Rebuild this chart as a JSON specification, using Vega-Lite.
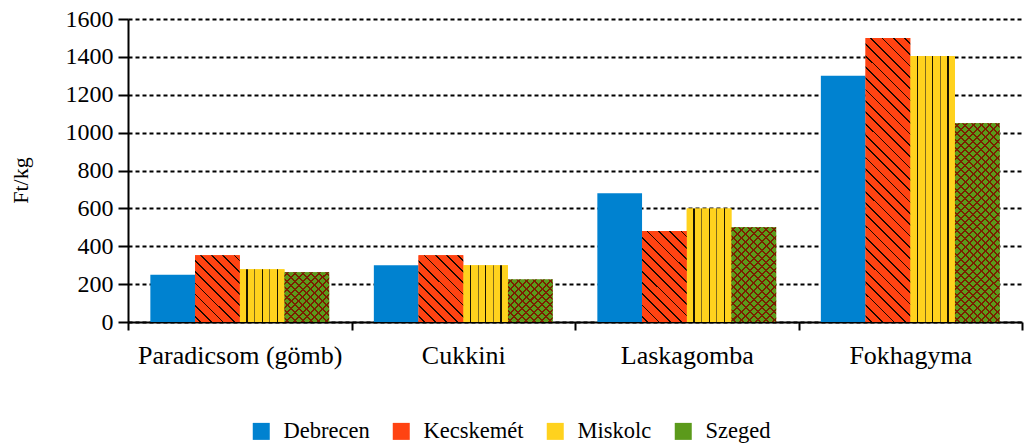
{
  "$schema": "https://vega.github.io/schema/vega-lite/v6.json",
  "width": 894,
  "height": 303,
  "autosize": "none",
  "padding": {"left": 128, "top": 19, "right": 2, "bottom": 122},
  "background": "white",
  "config": {"view": {"stroke": null}, "font": "Liberation Serif", "axis": {"labelFont": "Liberation Serif", "titleFont": "Liberation Serif"}, "legend": {"labelFont": "Liberation Serif"}},
  "data": {"values": [
    {"product": "Paradicsom (gömb)", "city": "Debrecen", "price": 250},
    {"product": "Paradicsom (gömb)", "city": "Kecskemét", "price": 353},
    {"product": "Paradicsom (gömb)", "city": "Miskolc", "price": 278},
    {"product": "Paradicsom (gömb)", "city": "Szeged", "price": 263},
    {"product": "Cukkini", "city": "Debrecen", "price": 300},
    {"product": "Cukkini", "city": "Kecskemét", "price": 353},
    {"product": "Cukkini", "city": "Miskolc", "price": 300},
    {"product": "Cukkini", "city": "Szeged", "price": 225},
    {"product": "Laskagomba", "city": "Debrecen", "price": 680},
    {"product": "Laskagomba", "city": "Kecskemét", "price": 480},
    {"product": "Laskagomba", "city": "Miskolc", "price": 600},
    {"product": "Laskagomba", "city": "Szeged", "price": 500},
    {"product": "Fokhagyma", "city": "Debrecen", "price": 1300},
    {"product": "Fokhagyma", "city": "Kecskemét", "price": 1500},
    {"product": "Fokhagyma", "city": "Miskolc", "price": 1405},
    {"product": "Fokhagyma", "city": "Szeged", "price": 1050}
  ]},
  "encoding": {
    "x": {
      "field": "product", "type": "nominal",
      "sort": ["Paradicsom (gömb)", "Cukkini", "Laskagomba", "Fokhagyma"],
      "scale": {"paddingInner": 0, "paddingOuter": 0},
      "axis": {"title": null, "labelAngle": 0, "tickBand": "extent", "tickSize": 8, "tickWidth": 2, "tickColor": "#000", "domainColor": "#000", "domainWidth": 2, "labelFont": "Liberation Serif", "labelFontSize": 26, "labelColor": "#000", "labelPadding": 12, "labelLimit": 0, "grid": false}
    },
    "xOffset": {"field": "city", "type": "nominal", "sort": ["Debrecen", "Kecskemét", "Miskolc", "Szeged"], "scale": {"paddingInner": 0, "paddingOuter": 0.5}},
    "y": {
      "field": "price", "type": "quantitative",
      "scale": {"domain": [0, 1600], "nice": false},
      "axis": {"title": "Ft/kg", "format": "d", "values": [0, 200, 400, 600, 800, 1000, 1200, 1400, 1600], "grid": true, "gridColor": "#000", "gridDash": [4, 3], "gridWidth": 2, "domainColor": "#000", "domainWidth": 2, "tickColor": "#000", "tickWidth": 2, "tickSize": 10, "labelFont": "Liberation Serif", "labelFontSize": 24, "labelColor": "#000", "labelPadding": 5, "titleFont": "Liberation Serif", "titleFontSize": 22, "titleFontWeight": "normal", "titleColor": "#000", "titlePadding": 33, "titleY": 161}
    }
  },
  "layer": [
    {
      "mark": {"type": "bar"},
      "encoding": {
        "color": {
          "field": "city", "type": "nominal",
          "sort": ["Debrecen", "Kecskemét", "Miskolc", "Szeged"],
          "scale": {"domain": ["Debrecen", "Kecskemét", "Miskolc", "Szeged"], "range": ["#0082D0", "#FF4312", "#FFD21E", "#5B9A1B"]},
          "legend": {"orient": "none", "legendX": 122, "legendY": 401, "direction": "horizontal", "title": null, "symbolType": "square", "symbolSize": 289, "symbolStrokeWidth": 0, "labelFont": "Liberation Serif", "labelFontSize": 22.5, "labelColor": "#000", "labelOffset": 11, "columnPadding": 20, "padding": 0}
        }
      }
    },
    {
      "transform": [{"filter": "datum.city === 'Miskolc'"}],
      "mark": {"type": "bar", "fill": {"gradient": "linear", "x1": 0, "y1": 0, "x2": 1, "y2": 0, "stops": [
        {"offset": 0, "color": "#FFD21E"},
        {"offset": 0.151, "color": "#FFD21E"}, {"offset": 0.151, "color": "#1A1400"}, {"offset": 0.175, "color": "#1A1400"}, {"offset": 0.175, "color": "#FFD21E"},
        {"offset": 0.321, "color": "#FFD21E"}, {"offset": 0.321, "color": "#806A1C"}, {"offset": 0.345, "color": "#806A1C"}, {"offset": 0.345, "color": "#FFD21E"},
        {"offset": 0.492, "color": "#FFD21E"}, {"offset": 0.492, "color": "#1A1400"}, {"offset": 0.516, "color": "#1A1400"}, {"offset": 0.516, "color": "#FFD21E"},
        {"offset": 0.662, "color": "#FFD21E"}, {"offset": 0.662, "color": "#806A1C"}, {"offset": 0.686, "color": "#806A1C"}, {"offset": 0.686, "color": "#FFD21E"},
        {"offset": 0.832, "color": "#FFD21E"}, {"offset": 0.832, "color": "#1A1400"}, {"offset": 0.856, "color": "#1A1400"}, {"offset": 0.856, "color": "#FFD21E"},
        {"offset": 1, "color": "#FFD21E"}
      ]}}
    },
    {
      "transform": [{"filter": "datum.city === 'Kecskemét' && (datum.product === 'Paradicsom (gömb)' || datum.product === 'Cukkini')"}],
      "mark": {"type": "bar", "fill": {"gradient": "linear", "x1": 0, "y1": 1, "x2": 0.7697, "y2": -0.1536, "stops": [
        {"offset": 0, "color": "#FF4312"},
        {"offset": 0.042, "color": "#FF4312"}, {"offset": 0.042, "color": "#1A0800"}, {"offset": 0.058, "color": "#1A0800"}, {"offset": 0.058, "color": "#FF4312"},
        {"offset": 0.142, "color": "#FF4312"}, {"offset": 0.142, "color": "#1A0800"}, {"offset": 0.158, "color": "#1A0800"}, {"offset": 0.158, "color": "#FF4312"},
        {"offset": 0.242, "color": "#FF4312"}, {"offset": 0.242, "color": "#1A0800"}, {"offset": 0.258, "color": "#1A0800"}, {"offset": 0.258, "color": "#FF4312"},
        {"offset": 0.342, "color": "#FF4312"}, {"offset": 0.342, "color": "#1A0800"}, {"offset": 0.358, "color": "#1A0800"}, {"offset": 0.358, "color": "#FF4312"},
        {"offset": 0.442, "color": "#FF4312"}, {"offset": 0.442, "color": "#1A0800"}, {"offset": 0.458, "color": "#1A0800"}, {"offset": 0.458, "color": "#FF4312"},
        {"offset": 0.542, "color": "#FF4312"}, {"offset": 0.542, "color": "#1A0800"}, {"offset": 0.558, "color": "#1A0800"}, {"offset": 0.558, "color": "#FF4312"},
        {"offset": 0.642, "color": "#FF4312"}, {"offset": 0.642, "color": "#1A0800"}, {"offset": 0.658, "color": "#1A0800"}, {"offset": 0.658, "color": "#FF4312"},
        {"offset": 0.742, "color": "#FF4312"}, {"offset": 0.742, "color": "#1A0800"}, {"offset": 0.758, "color": "#1A0800"}, {"offset": 0.758, "color": "#FF4312"},
        {"offset": 0.842, "color": "#FF4312"}, {"offset": 0.842, "color": "#1A0800"}, {"offset": 0.858, "color": "#1A0800"}, {"offset": 0.858, "color": "#FF4312"},
        {"offset": 0.942, "color": "#FF4312"}, {"offset": 0.942, "color": "#1A0800"}, {"offset": 0.958, "color": "#1A0800"}, {"offset": 0.958, "color": "#FF4312"},
        {"offset": 1, "color": "#FF4312"}
      ]}}
    },
    {
      "transform": [{"filter": "datum.city === 'Kecskemét' && datum.product === 'Laskagomba'"}],
      "mark": {"type": "bar", "fill": {"gradient": "linear", "x1": 0, "y1": 1, "x2": 0.5895, "y2": -0.2014, "stops": [
        {"offset": 0, "color": "#FF4312"},
        {"offset": 0.0351, "color": "#FF4312"}, {"offset": 0.0351, "color": "#1A0800"}, {"offset": 0.0483, "color": "#1A0800"}, {"offset": 0.0483, "color": "#FF4312"},
        {"offset": 0.1184, "color": "#FF4312"}, {"offset": 0.1184, "color": "#1A0800"}, {"offset": 0.1316, "color": "#1A0800"}, {"offset": 0.1316, "color": "#FF4312"},
        {"offset": 0.2017, "color": "#FF4312"}, {"offset": 0.2017, "color": "#1A0800"}, {"offset": 0.2149, "color": "#1A0800"}, {"offset": 0.2149, "color": "#FF4312"},
        {"offset": 0.2851, "color": "#FF4312"}, {"offset": 0.2851, "color": "#1A0800"}, {"offset": 0.2983, "color": "#1A0800"}, {"offset": 0.2983, "color": "#FF4312"},
        {"offset": 0.3684, "color": "#FF4312"}, {"offset": 0.3684, "color": "#1A0800"}, {"offset": 0.3816, "color": "#1A0800"}, {"offset": 0.3816, "color": "#FF4312"},
        {"offset": 0.4517, "color": "#FF4312"}, {"offset": 0.4517, "color": "#1A0800"}, {"offset": 0.4649, "color": "#1A0800"}, {"offset": 0.4649, "color": "#FF4312"},
        {"offset": 0.5351, "color": "#FF4312"}, {"offset": 0.5351, "color": "#1A0800"}, {"offset": 0.5483, "color": "#1A0800"}, {"offset": 0.5483, "color": "#FF4312"},
        {"offset": 0.6184, "color": "#FF4312"}, {"offset": 0.6184, "color": "#1A0800"}, {"offset": 0.6316, "color": "#1A0800"}, {"offset": 0.6316, "color": "#FF4312"},
        {"offset": 0.7017, "color": "#FF4312"}, {"offset": 0.7017, "color": "#1A0800"}, {"offset": 0.7149, "color": "#1A0800"}, {"offset": 0.7149, "color": "#FF4312"},
        {"offset": 0.7851, "color": "#FF4312"}, {"offset": 0.7851, "color": "#1A0800"}, {"offset": 0.7983, "color": "#1A0800"}, {"offset": 0.7983, "color": "#FF4312"},
        {"offset": 0.8684, "color": "#FF4312"}, {"offset": 0.8684, "color": "#1A0800"}, {"offset": 0.8816, "color": "#1A0800"}, {"offset": 0.8816, "color": "#FF4312"},
        {"offset": 0.9517, "color": "#FF4312"}, {"offset": 0.9517, "color": "#1A0800"}, {"offset": 0.9649, "color": "#1A0800"}, {"offset": 0.9649, "color": "#FF4312"},
        {"offset": 1, "color": "#FF4312"}
      ]}}
    },
    {
      "transform": [{"filter": "datum.city === 'Kecskemét' && datum.product === 'Fokhagyma'"}],
      "mark": {"type": "bar", "fill": {"gradient": "linear", "x1": 0, "y1": 1, "x2": 0.1773, "y2": -0.1292, "stops": [
        {"offset": 0, "color": "#FF4312"},
        {"offset": 0.0145, "color": "#FF4312"}, {"offset": 0.0145, "color": "#1A0800"}, {"offset": 0.0200, "color": "#1A0800"}, {"offset": 0.0200, "color": "#FF4312"},
        {"offset": 0.0490, "color": "#FF4312"}, {"offset": 0.0490, "color": "#1A0800"}, {"offset": 0.0545, "color": "#1A0800"}, {"offset": 0.0545, "color": "#FF4312"},
        {"offset": 0.0835, "color": "#FF4312"}, {"offset": 0.0835, "color": "#1A0800"}, {"offset": 0.0890, "color": "#1A0800"}, {"offset": 0.0890, "color": "#FF4312"},
        {"offset": 0.1180, "color": "#FF4312"}, {"offset": 0.1180, "color": "#1A0800"}, {"offset": 0.1234, "color": "#1A0800"}, {"offset": 0.1234, "color": "#FF4312"},
        {"offset": 0.1524, "color": "#FF4312"}, {"offset": 0.1524, "color": "#1A0800"}, {"offset": 0.1579, "color": "#1A0800"}, {"offset": 0.1579, "color": "#FF4312"},
        {"offset": 0.1869, "color": "#FF4312"}, {"offset": 0.1869, "color": "#1A0800"}, {"offset": 0.1924, "color": "#1A0800"}, {"offset": 0.1924, "color": "#FF4312"},
        {"offset": 0.2214, "color": "#FF4312"}, {"offset": 0.2214, "color": "#1A0800"}, {"offset": 0.2269, "color": "#1A0800"}, {"offset": 0.2269, "color": "#FF4312"},
        {"offset": 0.2559, "color": "#FF4312"}, {"offset": 0.2559, "color": "#1A0800"}, {"offset": 0.2614, "color": "#1A0800"}, {"offset": 0.2614, "color": "#FF4312"},
        {"offset": 0.2904, "color": "#FF4312"}, {"offset": 0.2904, "color": "#1A0800"}, {"offset": 0.2958, "color": "#1A0800"}, {"offset": 0.2958, "color": "#FF4312"},
        {"offset": 0.3249, "color": "#FF4312"}, {"offset": 0.3249, "color": "#1A0800"}, {"offset": 0.3303, "color": "#1A0800"}, {"offset": 0.3303, "color": "#FF4312"},
        {"offset": 0.3593, "color": "#FF4312"}, {"offset": 0.3593, "color": "#1A0800"}, {"offset": 0.3648, "color": "#1A0800"}, {"offset": 0.3648, "color": "#FF4312"},
        {"offset": 0.3938, "color": "#FF4312"}, {"offset": 0.3938, "color": "#1A0800"}, {"offset": 0.3993, "color": "#1A0800"}, {"offset": 0.3993, "color": "#FF4312"},
        {"offset": 0.4283, "color": "#FF4312"}, {"offset": 0.4283, "color": "#1A0800"}, {"offset": 0.4338, "color": "#1A0800"}, {"offset": 0.4338, "color": "#FF4312"},
        {"offset": 0.4628, "color": "#FF4312"}, {"offset": 0.4628, "color": "#1A0800"}, {"offset": 0.4683, "color": "#1A0800"}, {"offset": 0.4683, "color": "#FF4312"},
        {"offset": 0.4973, "color": "#FF4312"}, {"offset": 0.4973, "color": "#1A0800"}, {"offset": 0.5027, "color": "#1A0800"}, {"offset": 0.5027, "color": "#FF4312"},
        {"offset": 0.5317, "color": "#FF4312"}, {"offset": 0.5317, "color": "#1A0800"}, {"offset": 0.5372, "color": "#1A0800"}, {"offset": 0.5372, "color": "#FF4312"},
        {"offset": 0.5662, "color": "#FF4312"}, {"offset": 0.5662, "color": "#1A0800"}, {"offset": 0.5717, "color": "#1A0800"}, {"offset": 0.5717, "color": "#FF4312"},
        {"offset": 0.6007, "color": "#FF4312"}, {"offset": 0.6007, "color": "#1A0800"}, {"offset": 0.6062, "color": "#1A0800"}, {"offset": 0.6062, "color": "#FF4312"},
        {"offset": 0.6352, "color": "#FF4312"}, {"offset": 0.6352, "color": "#1A0800"}, {"offset": 0.6407, "color": "#1A0800"}, {"offset": 0.6407, "color": "#FF4312"},
        {"offset": 0.6697, "color": "#FF4312"}, {"offset": 0.6697, "color": "#1A0800"}, {"offset": 0.6752, "color": "#1A0800"}, {"offset": 0.6752, "color": "#FF4312"},
        {"offset": 0.7042, "color": "#FF4312"}, {"offset": 0.7042, "color": "#1A0800"}, {"offset": 0.7096, "color": "#1A0800"}, {"offset": 0.7096, "color": "#FF4312"},
        {"offset": 0.7386, "color": "#FF4312"}, {"offset": 0.7386, "color": "#1A0800"}, {"offset": 0.7441, "color": "#1A0800"}, {"offset": 0.7441, "color": "#FF4312"},
        {"offset": 0.7731, "color": "#FF4312"}, {"offset": 0.7731, "color": "#1A0800"}, {"offset": 0.7786, "color": "#1A0800"}, {"offset": 0.7786, "color": "#FF4312"},
        {"offset": 0.8076, "color": "#FF4312"}, {"offset": 0.8076, "color": "#1A0800"}, {"offset": 0.8131, "color": "#1A0800"}, {"offset": 0.8131, "color": "#FF4312"},
        {"offset": 0.8421, "color": "#FF4312"}, {"offset": 0.8421, "color": "#1A0800"}, {"offset": 0.8476, "color": "#1A0800"}, {"offset": 0.8476, "color": "#FF4312"},
        {"offset": 0.8766, "color": "#FF4312"}, {"offset": 0.8766, "color": "#1A0800"}, {"offset": 0.8820, "color": "#1A0800"}, {"offset": 0.8820, "color": "#FF4312"},
        {"offset": 0.9110, "color": "#FF4312"}, {"offset": 0.9110, "color": "#1A0800"}, {"offset": 0.9165, "color": "#1A0800"}, {"offset": 0.9165, "color": "#FF4312"},
        {"offset": 0.9455, "color": "#FF4312"}, {"offset": 0.9455, "color": "#1A0800"}, {"offset": 0.9510, "color": "#1A0800"}, {"offset": 0.9510, "color": "#FF4312"},
        {"offset": 0.9800, "color": "#FF4312"}, {"offset": 0.9800, "color": "#1A0800"}, {"offset": 0.9855, "color": "#1A0800"}, {"offset": 0.9855, "color": "#FF4312"},
        {"offset": 1, "color": "#FF4312"}
      ]}}
    },
    {
      "transform": [{"filter": "datum.city === 'Szeged' && datum.product === 'Paradicsom (gömb)'"}],
      "mark": {"type": "bar", "fill": {"gradient": "linear", "x1": 0, "y1": 1, "x2": 0.9420, "y2": -0.0520, "stops": [
        {"offset": 0, "color": "#5B9A1B"},
        {"offset": 0.0311, "color": "#5B9A1B"}, {"offset": 0.0311, "color": "#7A1E00"}, {"offset": 0.0523, "color": "#7A1E00"}, {"offset": 0.0523, "color": "#5B9A1B"},
        {"offset": 0.1144, "color": "#5B9A1B"}, {"offset": 0.1144, "color": "#7A1E00"}, {"offset": 0.1356, "color": "#7A1E00"}, {"offset": 0.1356, "color": "#5B9A1B"},
        {"offset": 0.1977, "color": "#5B9A1B"}, {"offset": 0.1977, "color": "#7A1E00"}, {"offset": 0.2189, "color": "#7A1E00"}, {"offset": 0.2189, "color": "#5B9A1B"},
        {"offset": 0.2811, "color": "#5B9A1B"}, {"offset": 0.2811, "color": "#7A1E00"}, {"offset": 0.3023, "color": "#7A1E00"}, {"offset": 0.3023, "color": "#5B9A1B"},
        {"offset": 0.3644, "color": "#5B9A1B"}, {"offset": 0.3644, "color": "#7A1E00"}, {"offset": 0.3856, "color": "#7A1E00"}, {"offset": 0.3856, "color": "#5B9A1B"},
        {"offset": 0.4477, "color": "#5B9A1B"}, {"offset": 0.4477, "color": "#7A1E00"}, {"offset": 0.4689, "color": "#7A1E00"}, {"offset": 0.4689, "color": "#5B9A1B"},
        {"offset": 0.5311, "color": "#5B9A1B"}, {"offset": 0.5311, "color": "#7A1E00"}, {"offset": 0.5523, "color": "#7A1E00"}, {"offset": 0.5523, "color": "#5B9A1B"},
        {"offset": 0.6144, "color": "#5B9A1B"}, {"offset": 0.6144, "color": "#7A1E00"}, {"offset": 0.6356, "color": "#7A1E00"}, {"offset": 0.6356, "color": "#5B9A1B"},
        {"offset": 0.6977, "color": "#5B9A1B"}, {"offset": 0.6977, "color": "#7A1E00"}, {"offset": 0.7189, "color": "#7A1E00"}, {"offset": 0.7189, "color": "#5B9A1B"},
        {"offset": 0.7811, "color": "#5B9A1B"}, {"offset": 0.7811, "color": "#7A1E00"}, {"offset": 0.8023, "color": "#7A1E00"}, {"offset": 0.8023, "color": "#5B9A1B"},
        {"offset": 0.8644, "color": "#5B9A1B"}, {"offset": 0.8644, "color": "#7A1E00"}, {"offset": 0.8856, "color": "#7A1E00"}, {"offset": 0.8856, "color": "#5B9A1B"},
        {"offset": 0.9477, "color": "#5B9A1B"}, {"offset": 0.9477, "color": "#7A1E00"}, {"offset": 0.9689, "color": "#7A1E00"}, {"offset": 0.9689, "color": "#5B9A1B"},
        {"offset": 1, "color": "#5B9A1B"}
      ]}}
    },
    {
      "transform": [{"filter": "datum.city === 'Szeged' && datum.product === 'Paradicsom (gömb)'"}],
      "mark": {"type": "bar", "fill": {"gradient": "linear", "x1": 0, "y1": 0, "x2": 0.9420, "y2": 1.0520, "stops": [
        {"offset": 0, "color": "transparent"},
        {"offset": 0.0311, "color": "transparent"}, {"offset": 0.0311, "color": "#7A1E00"}, {"offset": 0.0523, "color": "#7A1E00"}, {"offset": 0.0523, "color": "transparent"},
        {"offset": 0.1144, "color": "transparent"}, {"offset": 0.1144, "color": "#7A1E00"}, {"offset": 0.1356, "color": "#7A1E00"}, {"offset": 0.1356, "color": "transparent"},
        {"offset": 0.1977, "color": "transparent"}, {"offset": 0.1977, "color": "#7A1E00"}, {"offset": 0.2189, "color": "#7A1E00"}, {"offset": 0.2189, "color": "transparent"},
        {"offset": 0.2811, "color": "transparent"}, {"offset": 0.2811, "color": "#7A1E00"}, {"offset": 0.3023, "color": "#7A1E00"}, {"offset": 0.3023, "color": "transparent"},
        {"offset": 0.3644, "color": "transparent"}, {"offset": 0.3644, "color": "#7A1E00"}, {"offset": 0.3856, "color": "#7A1E00"}, {"offset": 0.3856, "color": "transparent"},
        {"offset": 0.4477, "color": "transparent"}, {"offset": 0.4477, "color": "#7A1E00"}, {"offset": 0.4689, "color": "#7A1E00"}, {"offset": 0.4689, "color": "transparent"},
        {"offset": 0.5311, "color": "transparent"}, {"offset": 0.5311, "color": "#7A1E00"}, {"offset": 0.5523, "color": "#7A1E00"}, {"offset": 0.5523, "color": "transparent"},
        {"offset": 0.6144, "color": "transparent"}, {"offset": 0.6144, "color": "#7A1E00"}, {"offset": 0.6356, "color": "#7A1E00"}, {"offset": 0.6356, "color": "transparent"},
        {"offset": 0.6977, "color": "transparent"}, {"offset": 0.6977, "color": "#7A1E00"}, {"offset": 0.7189, "color": "#7A1E00"}, {"offset": 0.7189, "color": "transparent"},
        {"offset": 0.7811, "color": "transparent"}, {"offset": 0.7811, "color": "#7A1E00"}, {"offset": 0.8023, "color": "#7A1E00"}, {"offset": 0.8023, "color": "transparent"},
        {"offset": 0.8644, "color": "transparent"}, {"offset": 0.8644, "color": "#7A1E00"}, {"offset": 0.8856, "color": "#7A1E00"}, {"offset": 0.8856, "color": "transparent"},
        {"offset": 0.9477, "color": "transparent"}, {"offset": 0.9477, "color": "#7A1E00"}, {"offset": 0.9689, "color": "#7A1E00"}, {"offset": 0.9689, "color": "transparent"},
        {"offset": 1, "color": "transparent"}
      ]}}
    },
    {
      "transform": [{"filter": "datum.city === 'Szeged' && datum.product === 'Cukkini'"}],
      "mark": {"type": "bar", "fill": {"gradient": "linear", "x1": 0, "y1": 1, "x2": 1.0223, "y2": 0.0233, "stops": [
        {"offset": 0, "color": "#5B9A1B"},
        {"offset": 0.0340, "color": "#5B9A1B"}, {"offset": 0.0340, "color": "#7A1E00"}, {"offset": 0.0569, "color": "#7A1E00"}, {"offset": 0.0569, "color": "#5B9A1B"},
        {"offset": 0.1249, "color": "#5B9A1B"}, {"offset": 0.1249, "color": "#7A1E00"}, {"offset": 0.1478, "color": "#7A1E00"}, {"offset": 0.1478, "color": "#5B9A1B"},
        {"offset": 0.2158, "color": "#5B9A1B"}, {"offset": 0.2158, "color": "#7A1E00"}, {"offset": 0.2387, "color": "#7A1E00"}, {"offset": 0.2387, "color": "#5B9A1B"},
        {"offset": 0.3067, "color": "#5B9A1B"}, {"offset": 0.3067, "color": "#7A1E00"}, {"offset": 0.3296, "color": "#7A1E00"}, {"offset": 0.3296, "color": "#5B9A1B"},
        {"offset": 0.3976, "color": "#5B9A1B"}, {"offset": 0.3976, "color": "#7A1E00"}, {"offset": 0.4205, "color": "#7A1E00"}, {"offset": 0.4205, "color": "#5B9A1B"},
        {"offset": 0.4885, "color": "#5B9A1B"}, {"offset": 0.4885, "color": "#7A1E00"}, {"offset": 0.5115, "color": "#7A1E00"}, {"offset": 0.5115, "color": "#5B9A1B"},
        {"offset": 0.5794, "color": "#5B9A1B"}, {"offset": 0.5794, "color": "#7A1E00"}, {"offset": 0.6024, "color": "#7A1E00"}, {"offset": 0.6024, "color": "#5B9A1B"},
        {"offset": 0.6704, "color": "#5B9A1B"}, {"offset": 0.6704, "color": "#7A1E00"}, {"offset": 0.6933, "color": "#7A1E00"}, {"offset": 0.6933, "color": "#5B9A1B"},
        {"offset": 0.7613, "color": "#5B9A1B"}, {"offset": 0.7613, "color": "#7A1E00"}, {"offset": 0.7842, "color": "#7A1E00"}, {"offset": 0.7842, "color": "#5B9A1B"},
        {"offset": 0.8522, "color": "#5B9A1B"}, {"offset": 0.8522, "color": "#7A1E00"}, {"offset": 0.8751, "color": "#7A1E00"}, {"offset": 0.8751, "color": "#5B9A1B"},
        {"offset": 0.9431, "color": "#5B9A1B"}, {"offset": 0.9431, "color": "#7A1E00"}, {"offset": 0.9660, "color": "#7A1E00"}, {"offset": 0.9660, "color": "#5B9A1B"},
        {"offset": 1, "color": "#5B9A1B"}
      ]}}
    },
    {
      "transform": [{"filter": "datum.city === 'Szeged' && datum.product === 'Cukkini'"}],
      "mark": {"type": "bar", "fill": {"gradient": "linear", "x1": 0, "y1": 0, "x2": 1.0223, "y2": 0.9767, "stops": [
        {"offset": 0, "color": "transparent"},
        {"offset": 0.0340, "color": "transparent"}, {"offset": 0.0340, "color": "#7A1E00"}, {"offset": 0.0569, "color": "#7A1E00"}, {"offset": 0.0569, "color": "transparent"},
        {"offset": 0.1249, "color": "transparent"}, {"offset": 0.1249, "color": "#7A1E00"}, {"offset": 0.1478, "color": "#7A1E00"}, {"offset": 0.1478, "color": "transparent"},
        {"offset": 0.2158, "color": "transparent"}, {"offset": 0.2158, "color": "#7A1E00"}, {"offset": 0.2387, "color": "#7A1E00"}, {"offset": 0.2387, "color": "transparent"},
        {"offset": 0.3067, "color": "transparent"}, {"offset": 0.3067, "color": "#7A1E00"}, {"offset": 0.3296, "color": "#7A1E00"}, {"offset": 0.3296, "color": "transparent"},
        {"offset": 0.3976, "color": "transparent"}, {"offset": 0.3976, "color": "#7A1E00"}, {"offset": 0.4205, "color": "#7A1E00"}, {"offset": 0.4205, "color": "transparent"},
        {"offset": 0.4885, "color": "transparent"}, {"offset": 0.4885, "color": "#7A1E00"}, {"offset": 0.5115, "color": "#7A1E00"}, {"offset": 0.5115, "color": "transparent"},
        {"offset": 0.5794, "color": "transparent"}, {"offset": 0.5794, "color": "#7A1E00"}, {"offset": 0.6024, "color": "#7A1E00"}, {"offset": 0.6024, "color": "transparent"},
        {"offset": 0.6704, "color": "transparent"}, {"offset": 0.6704, "color": "#7A1E00"}, {"offset": 0.6933, "color": "#7A1E00"}, {"offset": 0.6933, "color": "transparent"},
        {"offset": 0.7613, "color": "transparent"}, {"offset": 0.7613, "color": "#7A1E00"}, {"offset": 0.7842, "color": "#7A1E00"}, {"offset": 0.7842, "color": "transparent"},
        {"offset": 0.8522, "color": "transparent"}, {"offset": 0.8522, "color": "#7A1E00"}, {"offset": 0.8751, "color": "#7A1E00"}, {"offset": 0.8751, "color": "transparent"},
        {"offset": 0.9431, "color": "transparent"}, {"offset": 0.9431, "color": "#7A1E00"}, {"offset": 0.9660, "color": "#7A1E00"}, {"offset": 0.9660, "color": "transparent"},
        {"offset": 1, "color": "transparent"}
      ]}}
    },
    {
      "transform": [{"filter": "datum.city === 'Szeged' && datum.product === 'Laskagomba'"}],
      "mark": {"type": "bar", "fill": {"gradient": "linear", "x1": 0, "y1": 1, "x2": 0.5671, "y2": -0.2039, "stops": [
        {"offset": 0, "color": "#5B9A1B"},
        {"offset": 0.0222, "color": "#5B9A1B"}, {"offset": 0.0222, "color": "#7A1E00"}, {"offset": 0.0366, "color": "#7A1E00"}, {"offset": 0.0366, "color": "#5B9A1B"},
        {"offset": 0.0810, "color": "#5B9A1B"}, {"offset": 0.0810, "color": "#7A1E00"}, {"offset": 0.0954, "color": "#7A1E00"}, {"offset": 0.0954, "color": "#5B9A1B"},
        {"offset": 0.1399, "color": "#5B9A1B"}, {"offset": 0.1399, "color": "#7A1E00"}, {"offset": 0.1543, "color": "#7A1E00"}, {"offset": 0.1543, "color": "#5B9A1B"},
        {"offset": 0.1987, "color": "#5B9A1B"}, {"offset": 0.1987, "color": "#7A1E00"}, {"offset": 0.2131, "color": "#7A1E00"}, {"offset": 0.2131, "color": "#5B9A1B"},
        {"offset": 0.2575, "color": "#5B9A1B"}, {"offset": 0.2575, "color": "#7A1E00"}, {"offset": 0.2719, "color": "#7A1E00"}, {"offset": 0.2719, "color": "#5B9A1B"},
        {"offset": 0.3163, "color": "#5B9A1B"}, {"offset": 0.3163, "color": "#7A1E00"}, {"offset": 0.3307, "color": "#7A1E00"}, {"offset": 0.3307, "color": "#5B9A1B"},
        {"offset": 0.3752, "color": "#5B9A1B"}, {"offset": 0.3752, "color": "#7A1E00"}, {"offset": 0.3896, "color": "#7A1E00"}, {"offset": 0.3896, "color": "#5B9A1B"},
        {"offset": 0.4340, "color": "#5B9A1B"}, {"offset": 0.4340, "color": "#7A1E00"}, {"offset": 0.4484, "color": "#7A1E00"}, {"offset": 0.4484, "color": "#5B9A1B"},
        {"offset": 0.4928, "color": "#5B9A1B"}, {"offset": 0.4928, "color": "#7A1E00"}, {"offset": 0.5072, "color": "#7A1E00"}, {"offset": 0.5072, "color": "#5B9A1B"},
        {"offset": 0.5516, "color": "#5B9A1B"}, {"offset": 0.5516, "color": "#7A1E00"}, {"offset": 0.5660, "color": "#7A1E00"}, {"offset": 0.5660, "color": "#5B9A1B"},
        {"offset": 0.6105, "color": "#5B9A1B"}, {"offset": 0.6105, "color": "#7A1E00"}, {"offset": 0.6249, "color": "#7A1E00"}, {"offset": 0.6249, "color": "#5B9A1B"},
        {"offset": 0.6693, "color": "#5B9A1B"}, {"offset": 0.6693, "color": "#7A1E00"}, {"offset": 0.6837, "color": "#7A1E00"}, {"offset": 0.6837, "color": "#5B9A1B"},
        {"offset": 0.7281, "color": "#5B9A1B"}, {"offset": 0.7281, "color": "#7A1E00"}, {"offset": 0.7425, "color": "#7A1E00"}, {"offset": 0.7425, "color": "#5B9A1B"},
        {"offset": 0.7869, "color": "#5B9A1B"}, {"offset": 0.7869, "color": "#7A1E00"}, {"offset": 0.8013, "color": "#7A1E00"}, {"offset": 0.8013, "color": "#5B9A1B"},
        {"offset": 0.8457, "color": "#5B9A1B"}, {"offset": 0.8457, "color": "#7A1E00"}, {"offset": 0.8601, "color": "#7A1E00"}, {"offset": 0.8601, "color": "#5B9A1B"},
        {"offset": 0.9046, "color": "#5B9A1B"}, {"offset": 0.9046, "color": "#7A1E00"}, {"offset": 0.9190, "color": "#7A1E00"}, {"offset": 0.9190, "color": "#5B9A1B"},
        {"offset": 0.9634, "color": "#5B9A1B"}, {"offset": 0.9634, "color": "#7A1E00"}, {"offset": 0.9778, "color": "#7A1E00"}, {"offset": 0.9778, "color": "#5B9A1B"},
        {"offset": 1, "color": "#5B9A1B"}
      ]}}
    },
    {
      "transform": [{"filter": "datum.city === 'Szeged' && datum.product === 'Laskagomba'"}],
      "mark": {"type": "bar", "fill": {"gradient": "linear", "x1": 0, "y1": 0, "x2": 0.5671, "y2": 1.2039, "stops": [
        {"offset": 0, "color": "transparent"},
        {"offset": 0.0222, "color": "transparent"}, {"offset": 0.0222, "color": "#7A1E00"}, {"offset": 0.0366, "color": "#7A1E00"}, {"offset": 0.0366, "color": "transparent"},
        {"offset": 0.0810, "color": "transparent"}, {"offset": 0.0810, "color": "#7A1E00"}, {"offset": 0.0954, "color": "#7A1E00"}, {"offset": 0.0954, "color": "transparent"},
        {"offset": 0.1399, "color": "transparent"}, {"offset": 0.1399, "color": "#7A1E00"}, {"offset": 0.1543, "color": "#7A1E00"}, {"offset": 0.1543, "color": "transparent"},
        {"offset": 0.1987, "color": "transparent"}, {"offset": 0.1987, "color": "#7A1E00"}, {"offset": 0.2131, "color": "#7A1E00"}, {"offset": 0.2131, "color": "transparent"},
        {"offset": 0.2575, "color": "transparent"}, {"offset": 0.2575, "color": "#7A1E00"}, {"offset": 0.2719, "color": "#7A1E00"}, {"offset": 0.2719, "color": "transparent"},
        {"offset": 0.3163, "color": "transparent"}, {"offset": 0.3163, "color": "#7A1E00"}, {"offset": 0.3307, "color": "#7A1E00"}, {"offset": 0.3307, "color": "transparent"},
        {"offset": 0.3752, "color": "transparent"}, {"offset": 0.3752, "color": "#7A1E00"}, {"offset": 0.3896, "color": "#7A1E00"}, {"offset": 0.3896, "color": "transparent"},
        {"offset": 0.4340, "color": "transparent"}, {"offset": 0.4340, "color": "#7A1E00"}, {"offset": 0.4484, "color": "#7A1E00"}, {"offset": 0.4484, "color": "transparent"},
        {"offset": 0.4928, "color": "transparent"}, {"offset": 0.4928, "color": "#7A1E00"}, {"offset": 0.5072, "color": "#7A1E00"}, {"offset": 0.5072, "color": "transparent"},
        {"offset": 0.5516, "color": "transparent"}, {"offset": 0.5516, "color": "#7A1E00"}, {"offset": 0.5660, "color": "#7A1E00"}, {"offset": 0.5660, "color": "transparent"},
        {"offset": 0.6105, "color": "transparent"}, {"offset": 0.6105, "color": "#7A1E00"}, {"offset": 0.6249, "color": "#7A1E00"}, {"offset": 0.6249, "color": "transparent"},
        {"offset": 0.6693, "color": "transparent"}, {"offset": 0.6693, "color": "#7A1E00"}, {"offset": 0.6837, "color": "#7A1E00"}, {"offset": 0.6837, "color": "transparent"},
        {"offset": 0.7281, "color": "transparent"}, {"offset": 0.7281, "color": "#7A1E00"}, {"offset": 0.7425, "color": "#7A1E00"}, {"offset": 0.7425, "color": "transparent"},
        {"offset": 0.7869, "color": "transparent"}, {"offset": 0.7869, "color": "#7A1E00"}, {"offset": 0.8013, "color": "#7A1E00"}, {"offset": 0.8013, "color": "transparent"},
        {"offset": 0.8457, "color": "transparent"}, {"offset": 0.8457, "color": "#7A1E00"}, {"offset": 0.8601, "color": "#7A1E00"}, {"offset": 0.8601, "color": "transparent"},
        {"offset": 0.9046, "color": "transparent"}, {"offset": 0.9046, "color": "#7A1E00"}, {"offset": 0.9190, "color": "#7A1E00"}, {"offset": 0.9190, "color": "transparent"},
        {"offset": 0.9634, "color": "transparent"}, {"offset": 0.9634, "color": "#7A1E00"}, {"offset": 0.9778, "color": "#7A1E00"}, {"offset": 0.9778, "color": "transparent"},
        {"offset": 1, "color": "transparent"}
      ]}}
    },
    {
      "transform": [{"filter": "datum.city === 'Szeged' && datum.product === 'Fokhagyma'"}],
      "mark": {"type": "bar", "fill": {"gradient": "linear", "x1": 0, "y1": 1, "x2": 0.2615, "y2": -0.1656, "stops": [
        {"offset": 0, "color": "#5B9A1B"},
        {"offset": 0.0126, "color": "#5B9A1B"}, {"offset": 0.0126, "color": "#7A1E00"}, {"offset": 0.0208, "color": "#7A1E00"}, {"offset": 0.0208, "color": "#5B9A1B"},
        {"offset": 0.0459, "color": "#5B9A1B"}, {"offset": 0.0459, "color": "#7A1E00"}, {"offset": 0.0541, "color": "#7A1E00"}, {"offset": 0.0541, "color": "#5B9A1B"},
        {"offset": 0.0792, "color": "#5B9A1B"}, {"offset": 0.0792, "color": "#7A1E00"}, {"offset": 0.0874, "color": "#7A1E00"}, {"offset": 0.0874, "color": "#5B9A1B"},
        {"offset": 0.1126, "color": "#5B9A1B"}, {"offset": 0.1126, "color": "#7A1E00"}, {"offset": 0.1208, "color": "#7A1E00"}, {"offset": 0.1208, "color": "#5B9A1B"},
        {"offset": 0.1459, "color": "#5B9A1B"}, {"offset": 0.1459, "color": "#7A1E00"}, {"offset": 0.1541, "color": "#7A1E00"}, {"offset": 0.1541, "color": "#5B9A1B"},
        {"offset": 0.1792, "color": "#5B9A1B"}, {"offset": 0.1792, "color": "#7A1E00"}, {"offset": 0.1874, "color": "#7A1E00"}, {"offset": 0.1874, "color": "#5B9A1B"},
        {"offset": 0.2126, "color": "#5B9A1B"}, {"offset": 0.2126, "color": "#7A1E00"}, {"offset": 0.2208, "color": "#7A1E00"}, {"offset": 0.2208, "color": "#5B9A1B"},
        {"offset": 0.2459, "color": "#5B9A1B"}, {"offset": 0.2459, "color": "#7A1E00"}, {"offset": 0.2541, "color": "#7A1E00"}, {"offset": 0.2541, "color": "#5B9A1B"},
        {"offset": 0.2792, "color": "#5B9A1B"}, {"offset": 0.2792, "color": "#7A1E00"}, {"offset": 0.2874, "color": "#7A1E00"}, {"offset": 0.2874, "color": "#5B9A1B"},
        {"offset": 0.3126, "color": "#5B9A1B"}, {"offset": 0.3126, "color": "#7A1E00"}, {"offset": 0.3208, "color": "#7A1E00"}, {"offset": 0.3208, "color": "#5B9A1B"},
        {"offset": 0.3459, "color": "#5B9A1B"}, {"offset": 0.3459, "color": "#7A1E00"}, {"offset": 0.3541, "color": "#7A1E00"}, {"offset": 0.3541, "color": "#5B9A1B"},
        {"offset": 0.3792, "color": "#5B9A1B"}, {"offset": 0.3792, "color": "#7A1E00"}, {"offset": 0.3874, "color": "#7A1E00"}, {"offset": 0.3874, "color": "#5B9A1B"},
        {"offset": 0.4126, "color": "#5B9A1B"}, {"offset": 0.4126, "color": "#7A1E00"}, {"offset": 0.4208, "color": "#7A1E00"}, {"offset": 0.4208, "color": "#5B9A1B"},
        {"offset": 0.4459, "color": "#5B9A1B"}, {"offset": 0.4459, "color": "#7A1E00"}, {"offset": 0.4541, "color": "#7A1E00"}, {"offset": 0.4541, "color": "#5B9A1B"},
        {"offset": 0.4792, "color": "#5B9A1B"}, {"offset": 0.4792, "color": "#7A1E00"}, {"offset": 0.4874, "color": "#7A1E00"}, {"offset": 0.4874, "color": "#5B9A1B"},
        {"offset": 0.5126, "color": "#5B9A1B"}, {"offset": 0.5126, "color": "#7A1E00"}, {"offset": 0.5208, "color": "#7A1E00"}, {"offset": 0.5208, "color": "#5B9A1B"},
        {"offset": 0.5459, "color": "#5B9A1B"}, {"offset": 0.5459, "color": "#7A1E00"}, {"offset": 0.5541, "color": "#7A1E00"}, {"offset": 0.5541, "color": "#5B9A1B"},
        {"offset": 0.5792, "color": "#5B9A1B"}, {"offset": 0.5792, "color": "#7A1E00"}, {"offset": 0.5874, "color": "#7A1E00"}, {"offset": 0.5874, "color": "#5B9A1B"},
        {"offset": 0.6126, "color": "#5B9A1B"}, {"offset": 0.6126, "color": "#7A1E00"}, {"offset": 0.6208, "color": "#7A1E00"}, {"offset": 0.6208, "color": "#5B9A1B"},
        {"offset": 0.6459, "color": "#5B9A1B"}, {"offset": 0.6459, "color": "#7A1E00"}, {"offset": 0.6541, "color": "#7A1E00"}, {"offset": 0.6541, "color": "#5B9A1B"},
        {"offset": 0.6792, "color": "#5B9A1B"}, {"offset": 0.6792, "color": "#7A1E00"}, {"offset": 0.6874, "color": "#7A1E00"}, {"offset": 0.6874, "color": "#5B9A1B"},
        {"offset": 0.7126, "color": "#5B9A1B"}, {"offset": 0.7126, "color": "#7A1E00"}, {"offset": 0.7208, "color": "#7A1E00"}, {"offset": 0.7208, "color": "#5B9A1B"},
        {"offset": 0.7459, "color": "#5B9A1B"}, {"offset": 0.7459, "color": "#7A1E00"}, {"offset": 0.7541, "color": "#7A1E00"}, {"offset": 0.7541, "color": "#5B9A1B"},
        {"offset": 0.7792, "color": "#5B9A1B"}, {"offset": 0.7792, "color": "#7A1E00"}, {"offset": 0.7874, "color": "#7A1E00"}, {"offset": 0.7874, "color": "#5B9A1B"},
        {"offset": 0.8126, "color": "#5B9A1B"}, {"offset": 0.8126, "color": "#7A1E00"}, {"offset": 0.8208, "color": "#7A1E00"}, {"offset": 0.8208, "color": "#5B9A1B"},
        {"offset": 0.8459, "color": "#5B9A1B"}, {"offset": 0.8459, "color": "#7A1E00"}, {"offset": 0.8541, "color": "#7A1E00"}, {"offset": 0.8541, "color": "#5B9A1B"},
        {"offset": 0.8792, "color": "#5B9A1B"}, {"offset": 0.8792, "color": "#7A1E00"}, {"offset": 0.8874, "color": "#7A1E00"}, {"offset": 0.8874, "color": "#5B9A1B"},
        {"offset": 0.9126, "color": "#5B9A1B"}, {"offset": 0.9126, "color": "#7A1E00"}, {"offset": 0.9208, "color": "#7A1E00"}, {"offset": 0.9208, "color": "#5B9A1B"},
        {"offset": 0.9459, "color": "#5B9A1B"}, {"offset": 0.9459, "color": "#7A1E00"}, {"offset": 0.9541, "color": "#7A1E00"}, {"offset": 0.9541, "color": "#5B9A1B"},
        {"offset": 0.9792, "color": "#5B9A1B"}, {"offset": 0.9792, "color": "#7A1E00"}, {"offset": 0.9874, "color": "#7A1E00"}, {"offset": 0.9874, "color": "#5B9A1B"},
        {"offset": 1, "color": "#5B9A1B"}
      ]}}
    },
    {
      "transform": [{"filter": "datum.city === 'Szeged' && datum.product === 'Fokhagyma'"}],
      "mark": {"type": "bar", "fill": {"gradient": "linear", "x1": 0, "y1": 0, "x2": 0.2615, "y2": 1.1656, "stops": [
        {"offset": 0, "color": "transparent"},
        {"offset": 0.0126, "color": "transparent"}, {"offset": 0.0126, "color": "#7A1E00"}, {"offset": 0.0208, "color": "#7A1E00"}, {"offset": 0.0208, "color": "transparent"},
        {"offset": 0.0459, "color": "transparent"}, {"offset": 0.0459, "color": "#7A1E00"}, {"offset": 0.0541, "color": "#7A1E00"}, {"offset": 0.0541, "color": "transparent"},
        {"offset": 0.0792, "color": "transparent"}, {"offset": 0.0792, "color": "#7A1E00"}, {"offset": 0.0874, "color": "#7A1E00"}, {"offset": 0.0874, "color": "transparent"},
        {"offset": 0.1126, "color": "transparent"}, {"offset": 0.1126, "color": "#7A1E00"}, {"offset": 0.1208, "color": "#7A1E00"}, {"offset": 0.1208, "color": "transparent"},
        {"offset": 0.1459, "color": "transparent"}, {"offset": 0.1459, "color": "#7A1E00"}, {"offset": 0.1541, "color": "#7A1E00"}, {"offset": 0.1541, "color": "transparent"},
        {"offset": 0.1792, "color": "transparent"}, {"offset": 0.1792, "color": "#7A1E00"}, {"offset": 0.1874, "color": "#7A1E00"}, {"offset": 0.1874, "color": "transparent"},
        {"offset": 0.2126, "color": "transparent"}, {"offset": 0.2126, "color": "#7A1E00"}, {"offset": 0.2208, "color": "#7A1E00"}, {"offset": 0.2208, "color": "transparent"},
        {"offset": 0.2459, "color": "transparent"}, {"offset": 0.2459, "color": "#7A1E00"}, {"offset": 0.2541, "color": "#7A1E00"}, {"offset": 0.2541, "color": "transparent"},
        {"offset": 0.2792, "color": "transparent"}, {"offset": 0.2792, "color": "#7A1E00"}, {"offset": 0.2874, "color": "#7A1E00"}, {"offset": 0.2874, "color": "transparent"},
        {"offset": 0.3126, "color": "transparent"}, {"offset": 0.3126, "color": "#7A1E00"}, {"offset": 0.3208, "color": "#7A1E00"}, {"offset": 0.3208, "color": "transparent"},
        {"offset": 0.3459, "color": "transparent"}, {"offset": 0.3459, "color": "#7A1E00"}, {"offset": 0.3541, "color": "#7A1E00"}, {"offset": 0.3541, "color": "transparent"},
        {"offset": 0.3792, "color": "transparent"}, {"offset": 0.3792, "color": "#7A1E00"}, {"offset": 0.3874, "color": "#7A1E00"}, {"offset": 0.3874, "color": "transparent"},
        {"offset": 0.4126, "color": "transparent"}, {"offset": 0.4126, "color": "#7A1E00"}, {"offset": 0.4208, "color": "#7A1E00"}, {"offset": 0.4208, "color": "transparent"},
        {"offset": 0.4459, "color": "transparent"}, {"offset": 0.4459, "color": "#7A1E00"}, {"offset": 0.4541, "color": "#7A1E00"}, {"offset": 0.4541, "color": "transparent"},
        {"offset": 0.4792, "color": "transparent"}, {"offset": 0.4792, "color": "#7A1E00"}, {"offset": 0.4874, "color": "#7A1E00"}, {"offset": 0.4874, "color": "transparent"},
        {"offset": 0.5126, "color": "transparent"}, {"offset": 0.5126, "color": "#7A1E00"}, {"offset": 0.5208, "color": "#7A1E00"}, {"offset": 0.5208, "color": "transparent"},
        {"offset": 0.5459, "color": "transparent"}, {"offset": 0.5459, "color": "#7A1E00"}, {"offset": 0.5541, "color": "#7A1E00"}, {"offset": 0.5541, "color": "transparent"},
        {"offset": 0.5792, "color": "transparent"}, {"offset": 0.5792, "color": "#7A1E00"}, {"offset": 0.5874, "color": "#7A1E00"}, {"offset": 0.5874, "color": "transparent"},
        {"offset": 0.6126, "color": "transparent"}, {"offset": 0.6126, "color": "#7A1E00"}, {"offset": 0.6208, "color": "#7A1E00"}, {"offset": 0.6208, "color": "transparent"},
        {"offset": 0.6459, "color": "transparent"}, {"offset": 0.6459, "color": "#7A1E00"}, {"offset": 0.6541, "color": "#7A1E00"}, {"offset": 0.6541, "color": "transparent"},
        {"offset": 0.6792, "color": "transparent"}, {"offset": 0.6792, "color": "#7A1E00"}, {"offset": 0.6874, "color": "#7A1E00"}, {"offset": 0.6874, "color": "transparent"},
        {"offset": 0.7126, "color": "transparent"}, {"offset": 0.7126, "color": "#7A1E00"}, {"offset": 0.7208, "color": "#7A1E00"}, {"offset": 0.7208, "color": "transparent"},
        {"offset": 0.7459, "color": "transparent"}, {"offset": 0.7459, "color": "#7A1E00"}, {"offset": 0.7541, "color": "#7A1E00"}, {"offset": 0.7541, "color": "transparent"},
        {"offset": 0.7792, "color": "transparent"}, {"offset": 0.7792, "color": "#7A1E00"}, {"offset": 0.7874, "color": "#7A1E00"}, {"offset": 0.7874, "color": "transparent"},
        {"offset": 0.8126, "color": "transparent"}, {"offset": 0.8126, "color": "#7A1E00"}, {"offset": 0.8208, "color": "#7A1E00"}, {"offset": 0.8208, "color": "transparent"},
        {"offset": 0.8459, "color": "transparent"}, {"offset": 0.8459, "color": "#7A1E00"}, {"offset": 0.8541, "color": "#7A1E00"}, {"offset": 0.8541, "color": "transparent"},
        {"offset": 0.8792, "color": "transparent"}, {"offset": 0.8792, "color": "#7A1E00"}, {"offset": 0.8874, "color": "#7A1E00"}, {"offset": 0.8874, "color": "transparent"},
        {"offset": 0.9126, "color": "transparent"}, {"offset": 0.9126, "color": "#7A1E00"}, {"offset": 0.9208, "color": "#7A1E00"}, {"offset": 0.9208, "color": "transparent"},
        {"offset": 0.9459, "color": "transparent"}, {"offset": 0.9459, "color": "#7A1E00"}, {"offset": 0.9541, "color": "#7A1E00"}, {"offset": 0.9541, "color": "transparent"},
        {"offset": 0.9792, "color": "transparent"}, {"offset": 0.9792, "color": "#7A1E00"}, {"offset": 0.9874, "color": "#7A1E00"}, {"offset": 0.9874, "color": "transparent"},
        {"offset": 1, "color": "transparent"}
      ]}}
    }
  ]
}
